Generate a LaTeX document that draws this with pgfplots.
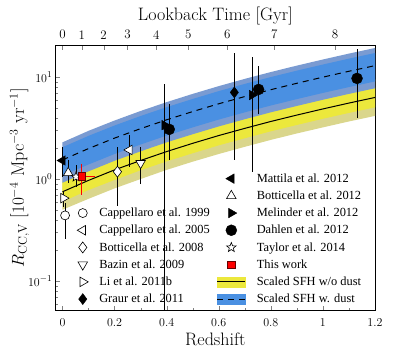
\documentclass[border=0pt]{standalone}
\usepackage{fontspec}
\usepackage{pgfplots}
\pgfplotsset{compat=1.18}
\usepackage{pgfplotstable}
\usepgfplotslibrary{fillbetween}
\usetikzlibrary{calc}
\newfontfamily\legfont{Liberation Serif}

\definecolor{yelout}{RGB}{218,214,140}
\definecolor{yelin}{RGB}{236,232,60}
\definecolor{bluout}{RGB}{122,155,210}
\definecolor{bluin}{RGB}{74,144,226}

% open five-pointed star
\pgfdeclareplotmark{ostar}{%
  \pgfpathmoveto{\pgfpointpolar{90}{\pgfplotmarksize}}%
  \pgfpathlineto{\pgfpointpolar{126}{0.42\pgfplotmarksize}}%
  \pgfpathlineto{\pgfpointpolar{162}{\pgfplotmarksize}}%
  \pgfpathlineto{\pgfpointpolar{198}{0.42\pgfplotmarksize}}%
  \pgfpathlineto{\pgfpointpolar{234}{\pgfplotmarksize}}%
  \pgfpathlineto{\pgfpointpolar{270}{0.42\pgfplotmarksize}}%
  \pgfpathlineto{\pgfpointpolar{306}{\pgfplotmarksize}}%
  \pgfpathlineto{\pgfpointpolar{342}{0.42\pgfplotmarksize}}%
  \pgfpathlineto{\pgfpointpolar{18}{\pgfplotmarksize}}%
  \pgfpathlineto{\pgfpointpolar{54}{0.42\pgfplotmarksize}}%
  \pgfpathclose
  \pgfusepathqfillstroke}

% scaled SFH without (s) and with (d) dust, with inner/outer bands
\pgfplotstableread{
z   s    yoh  yol  yih  yil  d     boh   bol  bih   bil
0.0 0.75 1.13 0.50 0.94 0.60 1.54  2.29  0.92 2.05  1.08
0.1 0.97 1.46 0.64 1.21 0.78 1.99  2.97  1.19 2.65  1.39
0.2 1.23 1.85 0.81 1.54 0.98 2.52  3.75  1.51 3.35  1.76
0.3 1.52 2.28 1.00 1.90 1.22 3.12  4.65  1.87 4.15  2.18
0.4 1.86 2.79 1.23 2.33 1.49 3.81  5.68  2.29 5.07  2.67
0.5 2.24 3.36 1.48 2.80 1.79 4.59  6.84  2.75 6.10  3.21
0.6 2.67 4.01 1.76 3.34 2.14 5.47  8.15  3.28 7.28  3.83
0.7 3.14 4.71 2.07 3.93 2.51 6.44  9.60  3.86 8.57  4.51
0.8 3.67 5.51 2.42 4.59 2.94 7.52  11.20 4.51 10.00 5.26
0.9 4.24 6.36 2.80 5.30 3.39 8.69  12.95 5.21 11.56 6.08
1.0 4.87 7.31 3.21 6.09 3.90 9.98  14.87 5.99 13.27 6.99
1.1 5.56 8.34 3.67 6.95 4.45 11.40 16.99 6.84 15.16 7.98
1.2 6.31 9.47 4.16 7.89 5.05 12.94 19.28 7.76 17.21 9.06
}\bands

\pgfplotsset{
  errbar/.style={black, line width=1pt, forget plot},
}
\tikzset{
  omark/.style={draw=black, fill=white, line width=0.6pt},
  fmark/.style={draw=black, fill=black},
}

\begin{document}
\begin{tikzpicture}
\begin{axis}[
  name=ax, scale only axis, width=319.3pt, height=264.3pt,
  xmin=-0.026, xmax=1.2, ymode=log, ymin=0.052, ymax=20.3,
  xtick={0,0.2,0.4,0.6,0.8,1,1.2}, minor x tick num=1,
  xtick pos=left, ytick pos=left, tick align=inside,
  major tick length=4pt, minor tick length=2.5pt,
  tick label style={font=\fontsize{13}{15}\selectfont},
  xticklabel style={yshift=-5pt},
  label style={font=\fontsize{18}{21}\selectfont},
  xlabel={Redshift},
  ylabel={$R_{\mathrm{CC,V}}$ [$10^{-4}$ Mpc$^{-3}$ yr$^{-1}$]},
  ylabel shift=-8pt,
  legend columns=2, legend cell align=left,
  legend style={draw=none, fill=none, at={(0.048,0.532)}, anchor=north west,
    font=\legfont\fontsize{12.4}{14}\selectfont, row sep=3.1pt,
    /tikz/every odd column/.append style={column sep=9pt},
    /tikz/every even column/.append style={column sep=5pt}},
]
% bands
\addplot[name path=yoh, draw=none, forget plot] table[x=z,y=yoh]{\bands};
\addplot[name path=yol, draw=none, forget plot] table[x=z,y=yol]{\bands};
\addplot[fill=yelout, draw=none, forget plot] fill between[of=yoh and yol];
\addplot[name path=yih, draw=none, forget plot] table[x=z,y=yih]{\bands};
\addplot[name path=yil, draw=none, forget plot] table[x=z,y=yil]{\bands};
\addplot[fill=yelin, draw=none, forget plot] fill between[of=yih and yil];
\addplot[name path=boh, draw=none, forget plot] table[x=z,y=boh]{\bands};
\addplot[name path=bol, draw=none, forget plot] table[x=z,y=bol]{\bands};
\addplot[fill=bluout, draw=none, forget plot] fill between[of=boh and bol];
\addplot[name path=bih, draw=none, forget plot] table[x=z,y=bih]{\bands};
\addplot[name path=bil, draw=none, forget plot] table[x=z,y=bil]{\bands};
\addplot[fill=bluin, draw=none, forget plot] fill between[of=bih and bil];
\addplot[black, line width=1pt, forget plot] table[x=z,y=s]{\bands};
\addplot[black, line width=1pt, dash pattern=on 6pt off 5pt, forget plot] table[x=z,y=d]{\bands};

% error bars
\addplot[errbar] coordinates {(0.010,0.26) (0.010,0.58)};
\addplot[errbar] coordinates {(0.257,1.32) (0.257,2.70)};
\addplot[errbar] coordinates {(0.211,0.55) (0.211,2.06)};
\addplot[errbar] coordinates {(0.300,0.89) (0.300,2.07)};
\addplot[errbar] coordinates {(0.004,0.53) (0.004,0.76)};
\addplot[errbar] coordinates {(0.660,1.54) (0.660,17.3)};
\addplot[errbar] coordinates {(0.000,1.05) (0.000,2.07)};
\addplot[errbar] coordinates {(0.022,0.91) (0.022,1.54)};
\addplot[errbar] coordinates {(0.392,0.03) (0.392,8.5)};
\addplot[errbar] coordinates {(0.730,1.18) (0.730,15.7)};
\addplot[errbar] coordinates {(0.410,1.54) (0.410,5.5)};
\addplot[errbar] coordinates {(0.753,4.3) (0.753,12.8)};
\addplot[errbar] coordinates {(1.131,4.0) (1.131,18.7)};
\addplot[errbar] coordinates {(0.052,0.84) (0.052,1.37)};
\addplot[errbar, red] coordinates {(0.074,0.70) (0.074,1.42)};
\addplot[errbar, red] coordinates {(0.038,1.07) (0.125,1.07)};

% markers
\addplot[only marks, forget plot, mark=*, mark size=4.5pt, mark options={omark}] coordinates {(0.010,0.44)};
\addplot[only marks, forget plot, mark=triangle*, mark size=5.5pt, mark options={omark, rotate=90}] coordinates {(0.257,1.93)};
\addplot[only marks, forget plot, mark=diamond*, mark size=5.5pt, mark options={omark}] coordinates {(0.211,1.18)};
\addplot[only marks, forget plot, mark=triangle*, mark size=5.5pt, mark options={omark, rotate=180}] coordinates {(0.300,1.43)};
\addplot[only marks, forget plot, mark=triangle*, mark size=5.5pt, mark options={omark, rotate=-90}] coordinates {(0.004,0.65)};
\addplot[only marks, forget plot, mark=diamond*, mark size=5.5pt, mark options={fmark}] coordinates {(0.660,7.07)};
\addplot[only marks, forget plot, mark=triangle*, mark size=5.5pt, mark options={fmark, rotate=90}] coordinates {(0.000,1.52)};
\addplot[only marks, forget plot, mark=triangle*, mark size=5.5pt, mark options={omark}] coordinates {(0.022,1.15)};
\addplot[only marks, forget plot, mark=ostar, mark size=5pt, mark options={omark}] coordinates {(0.052,1.05)};
\addplot[only marks, forget plot, mark=triangle*, mark size=5.5pt, mark options={fmark, rotate=-90}] coordinates {(0.392,3.38) (0.728,6.66)};
\addplot[only marks, forget plot, mark=*, mark size=5.5pt, mark options={fmark}] coordinates {(0.410,3.07) (0.753,7.56) (1.131,9.70)};
\addplot[only marks, forget plot, mark=square*, mark size=3.8pt, mark options={fill=red, draw=black!60!red, line width=0.5pt}] coordinates {(0.074,1.07)};

% legend, filled row by row
\addlegendimage{empty legend}\addlegendentry{}
\addlegendimage{only marks, mark=triangle*, mark size=5.5pt, mark options={fmark, rotate=90}}\addlegendentry{Mattila et al. 2012}
\addlegendimage{empty legend}\addlegendentry{}
\addlegendimage{only marks, mark=triangle*, mark size=5.5pt, mark options={omark}}\addlegendentry{Botticella et al. 2012}
\addlegendimage{only marks, mark=*, mark size=4.5pt, mark options={omark}}\addlegendentry{Cappellaro et al. 1999}
\addlegendimage{only marks, mark=triangle*, mark size=5.5pt, mark options={fmark, rotate=-90}}\addlegendentry{Melinder et al. 2012}
\addlegendimage{only marks, mark=triangle*, mark size=5.5pt, mark options={omark, rotate=90}}\addlegendentry{Cappellaro et al. 2005}
\addlegendimage{only marks, mark=*, mark size=5.5pt, mark options={fmark}}\addlegendentry{Dahlen et al. 2012}
\addlegendimage{only marks, mark=diamond*, mark size=5.5pt, mark options={omark}}\addlegendentry{Botticella et al. 2008}
\addlegendimage{only marks, mark=ostar, mark size=5pt, mark options={omark}}\addlegendentry{Taylor et al. 2014}
\addlegendimage{only marks, mark=triangle*, mark size=5.5pt, mark options={omark, rotate=180}}\addlegendentry{Bazin et al. 2009}
\addlegendimage{only marks, mark=square*, mark size=3.8pt, mark options={fill=red, draw=black!60!red, line width=0.5pt}}\addlegendentry{This work}
\addlegendimage{only marks, mark=triangle*, mark size=5.5pt, mark options={omark, rotate=-90}}\addlegendentry{Li et al. 2011b}
\addlegendimage{legend image code/.code={\fill[yelin] (-5.5pt,-5pt) rectangle (22.5pt,5pt); \draw[black, line width=1pt] (-5.5pt,0pt) -- (22.5pt,0pt);}}\addlegendentry{Scaled SFH w/o dust}
\addlegendimage{only marks, mark=diamond*, mark size=5.5pt, mark options={fmark}}\addlegendentry{Graur et al. 2011}
\addlegendimage{legend image code/.code={\fill[bluin] (-5.5pt,-5pt) rectangle (22.5pt,5pt); \draw[black, line width=1pt, dash pattern=on 6pt off 5pt] (-5.5pt,0pt) -- (22.5pt,0pt);}}\addlegendentry{Scaled SFH w. dust}
\end{axis}
\begin{axis}[
  scale only axis, width=319.3pt, height=264.3pt,
  at={(ax.south west)}, anchor=south west,
  xmin=-0.026, xmax=1.2, ymin=0, ymax=1,
  axis x line*=top, axis y line=none,
  xtick={0,0.074,0.158,0.25,0.36,0.483,0.633,0.813,1.047},
  xticklabels={0,1,2,3,4,5,6,7,8},
  tick align=inside, major tick length=4pt,
  tick label style={font=\fontsize{13}{15}\selectfont},
  xticklabel style={yshift=3pt},
  label style={font=\fontsize{18}{21}\selectfont},
  xlabel={Lookback Time [Gyr]}, xlabel style={yshift=-2pt},
]
\end{axis}
\pgfresetboundingbox
\path[use as bounding box] ($(ax.south west)+(-55.7pt,-39pt)$) rectangle ($(ax.north east)+(20pt,45.7pt)$);
\end{tikzpicture}
\end{document}
